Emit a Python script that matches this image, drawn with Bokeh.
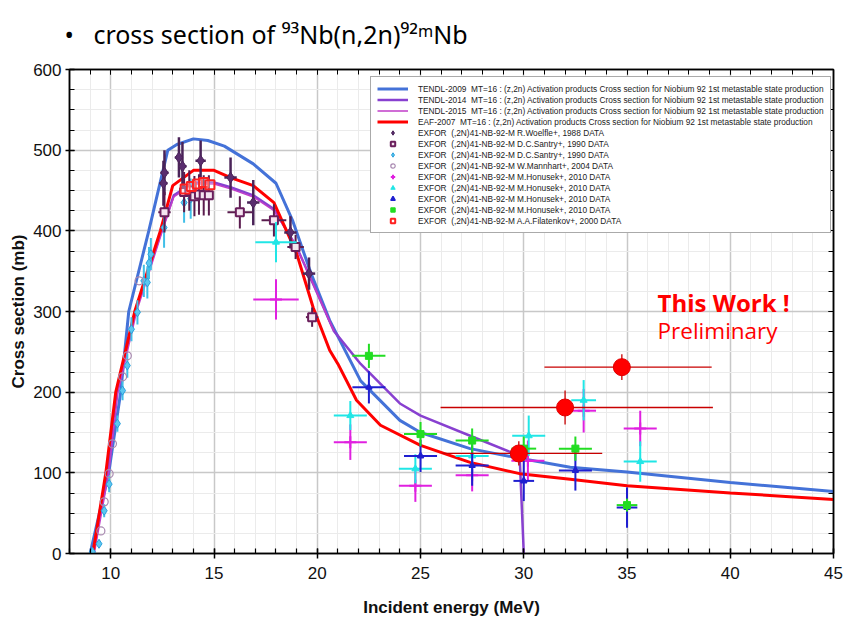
import numpy as np
from bokeh.plotting import figure
from bokeh.models import (Range1d, SingleIntervalTicker, LinearAxis, Label,
                          Legend, LegendItem)
from bokeh.embed import file_html
from bokeh.resources import INLINE

# ---------------- evaluated curves ----------------
tendl2009_e = [9.0, 9.45, 9.9, 10.48, 10.87, 11.84, 12.76, 13.2, 14.0, 14.7, 15.5, 16.9, 18.0,
               18.8, 19.7, 20.6, 22.1, 24.0, 25.0, 27.4, 29.8, 32.25, 35.0, 40.0, 45.0]
tendl2009_xs = [0, 50, 100, 200, 300, 400, 500, 507, 514, 512, 505, 483, 459,
                413, 347, 289, 214, 165, 150, 130, 118, 107, 101, 88, 77]

tendl2014_e = [9.15, 9.82, 10.28, 11.18, 12.45, 13.05, 14.0, 15.0, 15.8, 16.9, 17.9, 19.0,
               19.8, 20.8, 22.1, 24.0, 25.0, 27.4, 29.8, 30.0]
tendl2014_xs = [0, 100, 200, 300, 400, 444, 460, 460, 454, 444, 427, 380,
                334, 276, 235, 186, 171, 146, 121, 0]

tendl2015_e = [9.2, 9.9, 10.35, 11.25, 12.5, 13.05, 14.0, 15.0, 15.8, 16.9, 17.9, 19.0, 19.8, 20.8]
tendl2015_xs = [0, 100, 200, 300, 400, 442, 458, 458, 452, 442, 425, 380, 334, 276]

eaf2007_e = [9.13, 9.76, 10.24, 11.16, 12.4, 13.0, 14.0, 15.0, 15.8, 16.9, 17.9, 19.0, 19.8,
             20.6, 21.0, 21.9, 23.06, 25.0, 27.4, 29.8, 32.25, 35.0, 40.0, 45.0]
eaf2007_xs = [0, 100, 200, 300, 400, 456, 475, 475, 466, 456, 435, 372, 305,
              252, 235, 190, 159, 134, 113, 99, 92, 84, 75, 67]

# ---------------- EXFOR data ----------------
woelfle_e = [12.55, 12.6, 13.3, 13.47, 14.35, 15.8, 16.9, 18.7, 19.6]
woelfle_xs = [459, 472, 491, 480, 487, 466, 435, 398, 347]
woelfle_de = [0.2, 0.2, 0.2, 0.2, 0.25, 0.3, 0.3, 0.3, 0.3]
woelfle_dxs = [28, 28, 25, 30, 25, 25, 28, 20, 20]

santry_sq_e = [12.6, 13.55, 13.8, 14.05, 14.27, 14.5, 14.75, 16.25, 17.9, 18.95, 19.75]
santry_sq_xs = [423, 448, 450, 443, 445, 444, 444, 423, 413, 380, 293]
santry_sq_de = [0.3, 0.1, 0.1, 0.1, 0.1, 0.1, 0.1, 0.6, 0.6, 0.4, 0.3]
santry_sq_dxs = [25, 25, 25, 25, 25, 25, 25, 20, 20, 15, 12]

santry_di_e = [9.11, 9.43, 9.68, 9.92, 10.32, 10.57, 10.8, 11.0, 11.29, 11.6, 11.77, 11.85,
               11.94, 12.58, 13.55, 13.87]
santry_di_xs = [2, 12, 53, 86, 161, 202, 233, 278, 299, 338, 336, 360, 371, 404, 435, 440]
santry_di_dxs = [5, 5, 8, 10, 10, 12, 15, 15, 15, 20, 20, 20, 20, 25, 25, 25]

mannhart_e = [9.52, 9.68, 9.92, 10.08, 10.57, 10.8, 11.37]
mannhart_xs = [28, 64, 99, 136, 219, 245, 338]

hon_mag_e = [18.0, 21.6, 24.75, 27.5, 30.2, 32.9, 35.64]
hon_mag_xs = [315, 138, 84, 97, 115, 177, 155]
hon_mag_de = [1.1, 0.8, 0.8, 0.8, 0.8, 0.6, 0.8]
hon_mag_dxs = [25, 22, 20, 20, 25, 27, 22]

hon_cyan_e = [18.0, 21.6, 24.75, 27.5, 30.24, 32.9, 35.64]
hon_cyan_xs = [386, 171, 105, 121, 146, 190, 114]
hon_cyan_de = [1.0, 0.8, 0.8, 0.8, 0.8, 0.6, 0.8]
hon_cyan_dxs = [25, 18, 18, 20, 25, 25, 25]

hon_blue_e = [22.5, 25.0, 27.5, 30.0, 32.5, 35.0]
hon_blue_xs = [206, 121, 109, 90, 103, 57]
hon_blue_de = [0.8, 0.8, 0.8, 0.5, 0.8, 0.5]
hon_blue_dxs = [20, 20, 25, 25, 25, 25]

hon_green_e = [22.5, 25.0, 27.5, 30.0, 32.5, 35.0]
hon_green_xs = [245, 148, 140, 130, 130, 60]
hon_green_de = [0.8, 0.8, 0.8, 0.6, 0.8, 0.5]
hon_green_dxs = [15, 15, 15, 15, 15, 8]

filat_e = [13.6, 13.9, 14.2, 14.5, 14.8]
filat_xs = [452, 455, 458, 460, 457]

# ---------------- this work ----------------
tw_e = [29.76, 32.0, 34.75]
tw_xs = [124, 181, 231]
tw_elo = [26.05, 25.97, 31.0]
tw_ehi = [33.8, 39.16, 39.1]
tw_dxs = [15, 21, 16]

x_major = [10, 15, 20, 25, 30, 35, 40, 45]
y_major = [0, 100, 200, 300, 400, 500, 600]

FONT = "Liberation Sans"

p = figure(frame_width=764, frame_height=484, output_backend="svg", toolbar_location=None,
           x_range=Range1d(8, 45), y_range=Range1d(0, 600),
           min_border_left=69, min_border_right=12, min_border_top=69, min_border_bottom=0,
           x_axis_label="Incident energy (MeV)", y_axis_label="Cross section (mb)")
p.background_fill_color = "white"
p.border_fill_color = "white"
p.outline_line_color = "black"
p.outline_line_width = 1.5

p.title.text = "\u2022\u00a0\u00a0\u00a0cross section of \u2079\u00b3Nb(n,2n)\u2079\u00b2\u1d50Nb"
p.title.text_font = "Noto Sans"
p.title.text_font_size = "25px"
p.title.text_font_style = "normal"
p.title.text_color = "black"
p.title.align = "left"
p.title.vertical_align = "top"
p.title.offset = -5
p.title.standoff = 33

xt = SingleIntervalTicker(interval=5, num_minor_ticks=5)
yt = SingleIntervalTicker(interval=100, num_minor_ticks=4)
p.xaxis.ticker = xt
p.yaxis.ticker = yt
for ax in (p.xaxis[0], p.yaxis[0]):
    ax.axis_line_color = "black"
    ax.axis_line_width = 1.5
    ax.major_tick_line_color = "black"
    ax.major_tick_line_width = 1.5
    ax.minor_tick_line_color = "black"
    ax.minor_tick_line_width = 1.2
    ax.major_tick_in = 5
    ax.minor_tick_in = 5
    ax.minor_tick_out = 0
    ax.major_label_text_font = FONT
    ax.major_label_text_font_size = "17px"
    ax.major_label_text_color = "#111111"
    ax.axis_label_text_font = FONT
    ax.axis_label_text_font_size = "17px"
    ax.axis_label_text_font_style = "bold"
    ax.axis_label_text_color = "#111111"
p.xaxis.major_tick_out = 5
p.xaxis.major_label_standoff = 8
p.xaxis.axis_label_standoff = 16
p.yaxis.major_tick_out = 4
p.yaxis.major_label_standoff = 4
p.yaxis.axis_label_standoff = 2

for loc, tk, vals in (("above", xt, x_major), ("right", yt, y_major)):
    ax = LinearAxis(ticker=tk, axis_line_color="black", axis_line_width=1.5,
                    major_tick_in=5, major_tick_out=0, minor_tick_in=5, minor_tick_out=0,
                    major_tick_line_color="black", minor_tick_line_color="black",
                    major_label_overrides={v: "" for v in vals}, major_label_standoff=0)
    p.add_layout(ax, loc)

p.xgrid.ticker = xt
p.ygrid.ticker = yt
for g in (p.xgrid[0], p.ygrid[0]):
    g.grid_line_color = "#c8c8c8"
    g.grid_line_width = 1.5
    g.minor_grid_line_color = "#ebebeb"
    g.minor_grid_line_width = 1

# curves
r09 = p.line(tendl2009_e, tendl2009_xs, line_color="#4472d8", line_width=3)
r14 = p.line(tendl2014_e, tendl2014_xs, line_color="#8840d0", line_width=2.5)
r15 = p.line(tendl2015_e, tendl2015_xs, line_color="#c03cc8", line_width=1.5)
reaf = p.line(eaf2007_e, eaf2007_xs, line_color="#ff0000", line_width=3)


def errbars(x, y, dx, dy, color, width=2):
    x = np.asarray(x, float)
    y = np.asarray(y, float)
    dx = np.asarray(dx, float)
    dy = np.asarray(dy, float)
    p.segment(x - dx, y, x + dx, y, line_color=color, line_width=width)
    p.segment(x, y - dy, x, y + dy, line_color=color, line_width=width)


# data with error bars
errbars(santry_di_e, santry_di_xs, np.zeros(len(santry_di_e)), santry_di_dxs, "#40bfe8")
r_sdi = p.scatter(santry_di_e, santry_di_xs, marker="diamond", size=9, fill_color="#5cc8f0",
                  line_color="#2aa0dc", line_width=1)
r_man = p.scatter(mannhart_e, mannhart_xs, marker="circle", size=8, fill_color=None,
                  line_color="#a888b0", line_width=1.2)

errbars(woelfle_e, woelfle_xs, woelfle_de, woelfle_dxs, "#4a2358", 2.5)
r_woe = p.scatter(woelfle_e, woelfle_xs, marker="diamond", size=11, fill_color="#5a2d6e",
                  line_color="#4a2358")
errbars(santry_sq_e, santry_sq_xs, santry_sq_de, santry_sq_dxs, "#5a1c4e")
r_ssq = p.scatter(santry_sq_e, santry_sq_xs, marker="square", size=8, fill_color="#f4e4f0",
                  line_color="#6a1f5c", line_width=2)

r_fil = p.scatter(filat_e, filat_xs, marker="square", size=9, fill_color="white",
                  fill_alpha=0.3, line_color="#ff2020", line_width=2)

errbars(hon_mag_e, hon_mag_xs, hon_mag_de, hon_mag_dxs, "#e020e0")
r_hm = p.scatter(hon_mag_e, hon_mag_xs, marker="cross", size=12, line_color="#e020e0",
                 line_width=2)
errbars(hon_cyan_e, hon_cyan_xs, hon_cyan_de, hon_cyan_dxs, "#20e6e6")
r_hc = p.scatter(hon_cyan_e, hon_cyan_xs, marker="triangle", size=7, fill_color="#20e6e6",
                 line_color="#20e6e6")
errbars(hon_blue_e, hon_blue_xs, hon_blue_de, hon_blue_dxs, "#1f1fd0")
r_hb = p.scatter(hon_blue_e, hon_blue_xs, marker="triangle", size=6, fill_color="#1f1fd0",
                 line_color="#1f1fd0", line_width=1.5)
errbars(hon_green_e, hon_green_xs, hon_green_de, hon_green_dxs, "#22dd22")
r_hg = p.scatter(hon_green_e, hon_green_xs, marker="square", size=7, fill_color="#22dd22",
                 line_color="#22dd22")

# this work
tw_xs_a = np.asarray(tw_xs, float)
p.segment(tw_elo, tw_xs, tw_ehi, tw_xs, line_color="#c80000", line_width=1.3)
p.segment(tw_e, tw_xs_a - np.asarray(tw_dxs), tw_e, tw_xs_a + np.asarray(tw_dxs),
          line_color="#c80000", line_width=1.3)
p.scatter(tw_e, tw_xs, marker="circle", size=17, fill_color="#ff0000", line_color="#e00000")

lbl = " MT=16 : (z,2n) Activation products Cross section for Niobium 92 1st metastable state production"
items = [
    LegendItem(label="TENDL-2009 " + lbl, renderers=[r09]),
    LegendItem(label="TENDL-2014 " + lbl, renderers=[r14]),
    LegendItem(label="TENDL-2015 " + lbl, renderers=[r15]),
    LegendItem(label="EAF-2007 " + lbl, renderers=[reaf]),
    LegendItem(label="EXFOR  (,2N)41-NB-92-M R.Woelfle+, 1988 DATA", renderers=[r_woe]),
    LegendItem(label="EXFOR  (,2N)41-NB-92-M D.C.Santry+, 1990 DATA", renderers=[r_ssq]),
    LegendItem(label="EXFOR  (,2N)41-NB-92-M D.C.Santry+, 1990 DATA", renderers=[r_sdi]),
    LegendItem(label="EXFOR  (,2N)41-NB-92-M W.Mannhart+, 2004 DATA", renderers=[r_man]),
    LegendItem(label="EXFOR  (,2N)41-NB-92-M M.Honusek+, 2010 DATA", renderers=[r_hm]),
    LegendItem(label="EXFOR  (,2N)41-NB-92-M M.Honusek+, 2010 DATA", renderers=[r_hc]),
    LegendItem(label="EXFOR  (,2N)41-NB-92-M M.Honusek+, 2010 DATA", renderers=[r_hb]),
    LegendItem(label="EXFOR  (,2N)41-NB-92-M M.Honusek+, 2010 DATA", renderers=[r_hg]),
    LegendItem(label="EXFOR  (,2N)41-NB-92-M A.A.Filatenkov+, 2000 DATA", renderers=[r_fil]),
]
legend = Legend(items=items, location=(301, 320), label_text_font=FONT,
                label_text_font_size="8.3px", label_text_color="#222222",
                label_height=11, glyph_height=11, glyph_width=31, label_standoff=10,
                spacing=0, padding=6, margin=0, border_line_color="#555555",
                border_line_width=1, background_fill_color="white", background_fill_alpha=1)
p.add_layout(legend, "center")

# annotations
p.add_layout(Label(x=36.48, y=311, text="This Work !", text_color="#ff0000",
                   text_font="Open Sans", text_font_size="24px", text_font_style="bold",
                   text_baseline="alphabetic"))
p.add_layout(Label(x=36.48, y=276, text="Preliminary", text_color="#ff0000",
                   text_font="Open Sans", text_font_size="22.5px",
                   text_baseline="alphabetic"))

open("out.html", "w").write(file_html(p, INLINE))
